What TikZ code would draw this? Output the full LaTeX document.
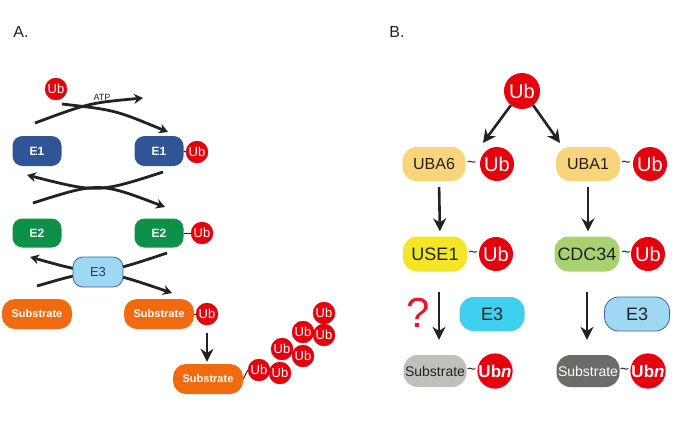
\documentclass[tikz,border=0pt]{standalone}
\usepackage{fontspec}
\setmainfont{Liberation Sans}
\usetikzlibrary{arrows.meta, positioning}
\definecolor{ink}{HTML}{222222}
\definecolor{ubred}{HTML}{E5000E}
\definecolor{eoneblue}{HTML}{2F5597}
\definecolor{etwogreen}{HTML}{0D9148}
\definecolor{subor}{HTML}{F26A10}
\definecolor{ethreelt}{HTML}{9FD8F3}
\definecolor{ethreeline}{HTML}{3B66A8}
\definecolor{ubayel}{HTML}{F8D47C}
\definecolor{useyel}{HTML}{F4E527}
\definecolor{cdcgreen}{HTML}{A8D272}
\definecolor{ethreecyan}{HTML}{3FD0EF}
\definecolor{subgray}{HTML}{BFBFBB}
\definecolor{subdark}{HTML}{6B6B68}
\newcommand{\fs}[1]{\fontsize{#1}{#1}\selectfont}

\begin{document}
\begin{tikzpicture}[x=1pt, y=-1pt,
  pill/.style={rectangle, rounded corners=10pt, minimum width=49pt, minimum height=30pt, inner sep=0pt, text=white, font=\fs{12}\bfseries},
  ubdot/.style={circle, fill=ubred, draw=ubred!80!black, line width=0.3pt, minimum size=22pt, inner sep=0pt, text=white, font=\fs{13}},
  bigdot/.style={circle, fill=ubred, minimum size=35pt, inner sep=0pt, text=white, font=\fs{20}},
  bpill/.style={rectangle, rounded corners=14pt, minimum width=63pt, minimum height=34pt, inner sep=0pt, text=ink, font=\fs{16}},
  tilde/.style={inner sep=0pt, text=ink, font=\fs{16}},
  link/.style={draw=ink, line width=1pt},
  curvearr/.style={draw=ink, line width=2.8pt, -{Stealth[length=9pt, width=10pt]}},
  bigarr/.style={draw=ink, line width=2.6pt, -{Stealth[length=13pt, width=13pt]}}
]
\useasboundingbox (0,0) rectangle (684,421);

% panel labels
\node[font=\fs{16}, text=ink] (labA) at (21,32) {A.};
\node[font=\fs{16}, text=ink] (labB) at (397,32) {B.};

% ---- panel A ----
\node[ubdot] (ubfree) at (56,89) {Ub};
\node[font=\fs{9}, text=ink] (atp) at (102,97) {ATP};

\node[pill, fill=eoneblue] (e1l) at (37,151) {E1};
\node[pill, fill=eoneblue] (e1r) at (159,151) {E1};
\node[ubdot] (ube1) at (197,152) {Ub};
\draw[link] (e1r.east) -- (ube1.west);

\node[pill, fill=etwogreen, minimum height=29pt] (e2l) at (37,233) {E2};
\node[pill, fill=etwogreen, minimum height=29pt] (e2r) at (159,233) {E2};
\node[ubdot] (ube2) at (202,233) {Ub};
\draw[link] (e2r.east) -- (ube2.west);

\node[pill, fill=subor, minimum width=70pt, rounded corners=13pt, font=\fs{11}\bfseries] (subl) at (37,314) {Substrate};
\node[pill, fill=subor, minimum width=70pt, rounded corners=13pt, font=\fs{11}\bfseries] (subr) at (159,314) {Substrate};
\node[ubdot] (ubsr) at (207,314) {Ub};
\draw[link] (subr.east) -- (ubsr.west);

% curve ends
\coordinate (atpin) at (35,123);
\coordinate (atpout) at (143,98);
\coordinate (ubin) at (62,104);
\coordinate (ubtoe1) at (168,132);
\coordinate (e1back) at (163,172);
\coordinate (e1tip) at (27,175);
\coordinate (e2in) at (33,203);
\coordinate (e2tip) at (165,207);
\coordinate (e2back) at (167,253);
\coordinate (e2ltip) at (30,257);
\coordinate (subin) at (37,286);
\coordinate (subtip) at (172,293);

\draw[curvearr] (atpin) .. controls (89,103) .. (atpout);
\draw[curvearr] (ubin) .. controls (115,110) .. (ubtoe1);
\draw[curvearr] (e1back) .. controls (97.7,193) .. (e1tip);
\draw[curvearr] (e2in) .. controls (99,182) .. (e2tip);
\draw[curvearr] (e2back) .. controls (97.9,276) .. (e2ltip);
\draw[curvearr] (subin) .. controls (98.5,268) .. (subtip);

\node[pill, fill=ethreelt, draw=ethreeline, line width=0.8pt, minimum width=50pt, text=ethreeline!60!black, font=\fs{13}] (e3a) at (98,272) {E3};

\node[pill, fill=subor, minimum width=70pt, rounded corners=13pt, font=\fs{11}\bfseries] (subbot) at (208,379) {Substrate};
\draw[bigarr, shorten <=8pt, shorten >=2pt] (ubsr.south) -- (ubsr.south |- subbot.north);

\node[ubdot] (ch1) at (259,370) {Ub};
\node[ubdot] (ch2) at (280,373) {Ub};
\node[ubdot] (ch3) at (282,349) {Ub};
\node[ubdot] (ch4) at (303,356) {Ub};
\node[ubdot] (ch5) at (303,332) {Ub};
\node[ubdot] (ch6) at (324,335) {Ub};
\node[ubdot] (ch7) at (324,313) {Ub};
\draw[link] (subbot.east) -- (ch1.west);

% ---- panel B ----
\node[bigdot, minimum size=36pt] (ubtop) at (522,91) {Ub};

\node[bpill, fill=ubayel] (uba6) at (434,164) {UBA6};
\node[tilde, right=1pt of uba6] (t6) {\textasciitilde};
\node[bigdot, minimum size=34pt] (ub6) at (497,164) {Ub};
\node[bpill, fill=ubayel, minimum width=64pt] (uba1) at (588,164) {UBA1};
\node[tilde, right=1pt of uba1] (t1) {\textasciitilde};
\node[bigdot, minimum size=34pt] (ub1) at (650,164) {Ub};

\coordinate (tip6) at (483,143);
\coordinate (tip1) at (560,143);
\draw[bigarr] (ubtop.232) -- (tip6);
\draw[bigarr] (ubtop.308) -- (tip1);

\node[bpill, fill=useyel, minimum width=64pt, minimum height=35pt, font=\fs{18}] (use1) at (435,254) {USE1};
\node[tilde, right=1pt of use1] (tu) {\textasciitilde};
\node[bigdot, minimum size=34pt] (ubu) at (496,254) {Ub};
\node[bpill, fill=cdcgreen, minimum width=65pt, minimum height=35pt, font=\fs{18}] (cdc) at (587,254) {CDC34};
\node[tilde] (tc) at (626,254) {\textasciitilde};
\node[bigdot, minimum size=34pt] (ubc) at (648,254) {Ub};

\draw[bigarr, shorten <=6pt, shorten >=5pt] ([xshift=5pt]uba6.south) -- ([xshift=5pt]use1.north);
\draw[bigarr, shorten <=6pt, shorten >=5pt] (uba1.south) -- (uba1.south |- cdc.north);

\node[bpill, fill=ethreecyan, minimum width=65pt, font=\fs{18}] (e3l) at (492,314) {E3};
\node[bpill, fill=ethreelt, draw=ethreeline, line width=0.8pt, minimum width=65pt, font=\fs{18}] (e3r) at (637,314) {E3};
\node[text=ubred!90!white, font=\fs{42}] (qmark) at (418,313) {?};

\node[bpill, fill=subgray, minimum height=32pt, font=\fs{14}] (sgl) at (435,371) {Substrate};
\node[tilde, right=0pt of sgl] (tsl) {\textasciitilde};
\node[bigdot, minimum size=34pt, font=\fs{17}\bfseries] (ubnl) at (495,371) {Ub\textit{n}};
\node[bpill, fill=subdark, minimum height=32pt, text=white, font=\fs{14}] (sgr) at (588,371) {Substrate};
\node[tilde, right=0pt of sgr] (tsr) {\textasciitilde};
\node[bigdot, minimum size=34pt, font=\fs{17}\bfseries] (ubnr) at (648,371) {Ub\textit{n}};

\draw[bigarr, shorten <=20pt, shorten >=15pt] ([xshift=4pt]use1.south) -- ([xshift=4pt]sgl.north);
\draw[bigarr, shorten <=20pt, shorten >=15pt] (cdc.south) -- (cdc.south |- sgr.north);
\end{tikzpicture}
\end{document}
